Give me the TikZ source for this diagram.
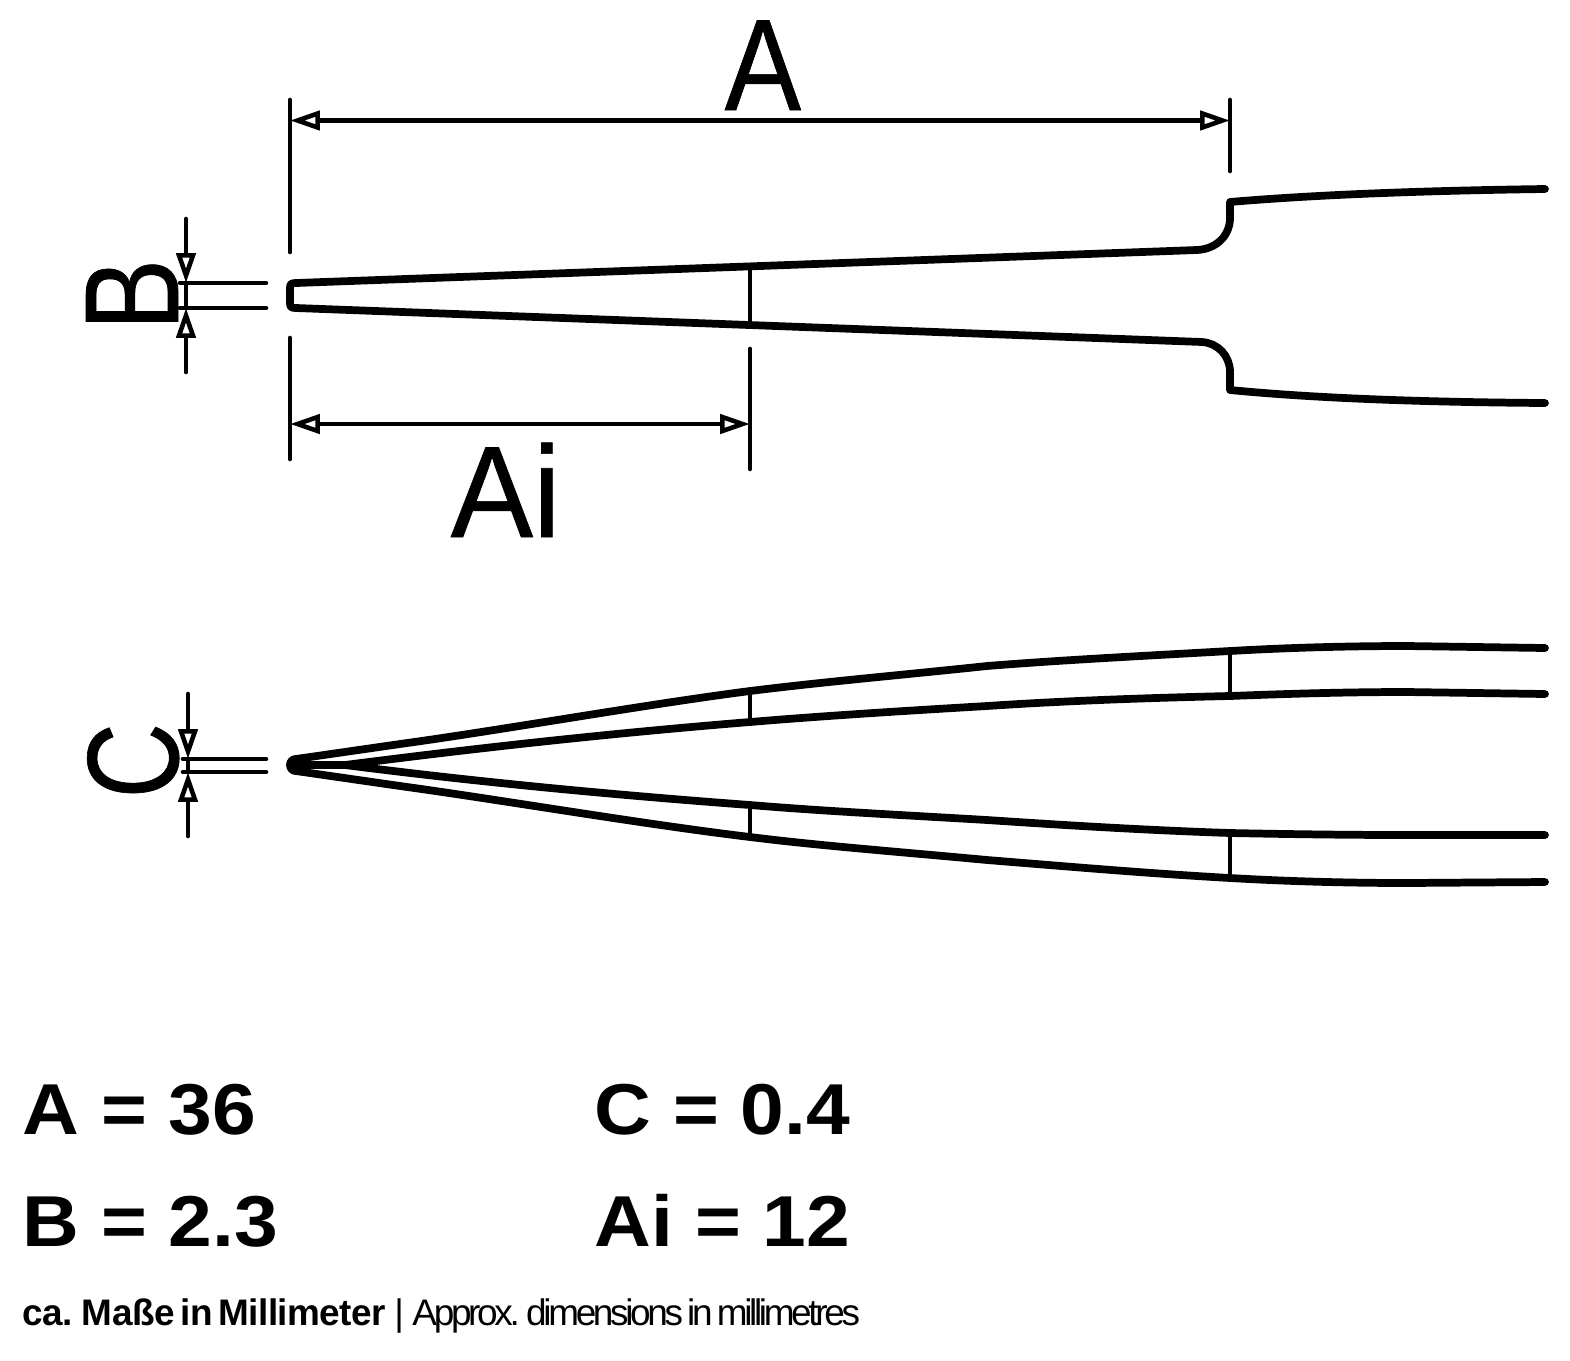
\documentclass[tikz,border=0pt]{standalone}
\usepackage{fontspec}
\setmainfont{Liberation Sans}
\newfontfamily\notefont[LetterSpace=-1.5,WordSpace=0.6]{Liberation Sans}
\newfontfamily\tightfont[LetterSpace=-9,WordSpace=0.6]{Liberation Sans}
\newfontfamily\valuefont[FakeStretch=1.09]{Liberation Sans}
\newfontfamily\narrowfont[FakeStretch=0.88,FakeBold=0.5]{Liberation Sans}
\newfontfamily\condfont[FakeStretch=0.8,FakeBold=0.5]{Liberation Sans}
\newfontfamily\widefont[FakeStretch=0.95,FakeBold=0.5]{Liberation Sans}
\usetikzlibrary{arrows.meta}
\tikzstyle{outline} = [line width=2.2pt,line cap=round,line join=round]
\tikzstyle{thinline} = [line width=1.3pt,line cap=round]
\tikzstyle{opentip} = [-{Triangle[open,length=8.5pt,width=5.4pt]}]
\tikzstyle{dimline} = [line width=1.3pt,line cap=round,line join=miter,{Triangle[open,length=8.5pt,width=5.4pt]}-{Triangle[open,length=8.5pt,width=5.4pt]}]
\tikzstyle{biglabel} = [inner sep=0pt,anchor=base west,font=\fontsize{37}{37}\narrowfont]
\tikzstyle{valuelabel} = [inner sep=0pt,anchor=base west,font=\fontsize{20.5}{20.5}\valuefont\bfseries]

\begin{document}
\begin{tikzpicture}[x=0.01cm,y=-0.01cm]
\useasboundingbox (0,0) rectangle (1570,1360);

% Upper tweezer
\draw[outline] (1545,189) .. controls (1400,191) and (1300,196) .. (1230,202) -- (1230,218)
  .. controls (1230,235) and (1217,249) .. (1197,250) -- (296,283)
  .. controls (291,283) and (290,284) .. (290,288) -- (290,303)
  .. controls (290,307) and (291,308) .. (296,308) -- (1202,342)
  .. controls (1218,343) and (1230,356) .. (1230,372) -- (1230,390)
  .. controls (1302,397) and (1402,402) .. (1545,403);
\draw[thinline] (750,266) -- (750,324);

% Lower tweezer
\draw[outline] (1545,648) -- (1407,646) .. controls (1342,646) and (1282,648) .. (1230,651)
  .. controls (1142,656) and (1062,660) .. (987,666)
  .. controls (902,675) and (822,682) .. (750,691)
  .. controls (642,705) and (502,730) .. (400,744) -- (296,759);
\draw[outline] (1545,694) -- (1407,692) .. controls (1342,692) and (1282,694) .. (1230,696)
  .. controls (1142,698) and (1062,701) .. (987,706)
  .. controls (902,711) and (822,716) .. (750,722)
  .. controls (602,734) and (470,749) .. (345,765) -- (300,765);
\draw[outline] (1545,835) -- (1407,835) .. controls (1342,835) and (1282,834) .. (1230,833)
  .. controls (1142,830) and (1062,825) .. (987,820)
  .. controls (902,815) and (822,811) .. (750,805)
  .. controls (602,794) and (470,781) .. (345,765);
\draw[outline] (1545,882) -- (1407,883) .. controls (1342,883) and (1282,881) .. (1230,878)
  .. controls (1142,873) and (1062,866) .. (987,860)
  .. controls (902,852) and (822,846) .. (750,837)
  .. controls (642,824) and (502,800) .. (400,786) -- (296,771);
\fill (296,765) circle[radius=10];
\draw[thinline] (750,691) -- (750,722);
\draw[thinline] (750,805) -- (750,837);
\draw[thinline] (1230,651) -- (1230,696);
\draw[thinline] (1230,833) -- (1230,878);

% Extension lines
\coordinate (aL) at (290,120.5);
\coordinate (aR) at (1230,120.5);
\coordinate (iL) at (290,424);
\coordinate (iR) at (750,424);
\draw[thinline] (290,100) -- (290,252);
\draw[thinline] (1230,100) -- (1230,171);
\draw[thinline] (290,338) -- (290,459);
\draw[thinline] (750,349) -- (750,469);

% Dimensions A and Ai
\draw[dimline] (aL) -- (aR);
\draw[dimline] (iL) -- (iR);
\node[biglabel] (labelA) at (724,110) {A};
\node[biglabel,font=\fontsize{37}{37}\widefont] (labelAi) at (450,537) {Ai};

% Dimension B
\coordinate (bT) at (186,219);
\coordinate (bU) at (186,283);
\coordinate (bL) at (186,308);
\coordinate (bB) at (186,372);
\draw[thinline] (bU) -- (bL);
\draw[thinline,opentip] (bT) -- (bU);
\draw[thinline,opentip] (bB) -- (bL);
\draw[thinline] (180,283) -- (266,283);
\draw[thinline] (180,308) -- (266,308);
\node[biglabel,font=\fontsize{38}{38}\condfont,rotate=90] (labelB) at (178,331) {B};

% Dimension C
\coordinate (cT) at (188,694);
\coordinate (cU) at (188,759);
\coordinate (cL) at (188,772);
\coordinate (cB) at (188,836);
\draw[thinline] (cU) -- (cL);
\draw[thinline,opentip] (cT) -- (cU);
\draw[thinline,opentip] (cB) -- (cL);
\draw[thinline] (183,759) -- (266,759);
\draw[thinline] (183,772) -- (266,772);
\node[biglabel,font=\fontsize{37}{37}\condfont,rotate=90] (labelC) at (178,799) {C};

% Values
\node[valuelabel] (valA) at (22,1134) {A = 36};
\node[valuelabel] (valB) at (22,1246) {B = 2.3};
\node[valuelabel] (valC) at (594,1134) {C = 0.4};
\node[valuelabel] (valAi) at (594,1246) {Ai = 12};
\node[inner sep=0pt,anchor=base west,font=\fontsize{10.5}{10.5}\selectfont] (note) at (22,1325)
  {{\notefont\bfseries ca. Maße in Millimeter}\hspace{2.4pt}|\hspace{2.4pt}{\tightfont Approx. dimensions in millimetres}};
\end{tikzpicture}
\end{document}
